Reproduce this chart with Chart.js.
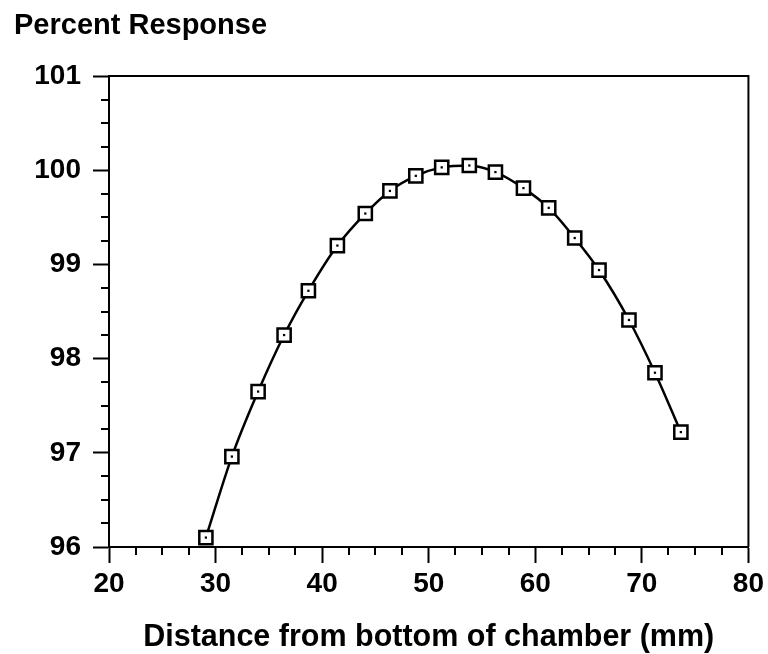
<!DOCTYPE html>
<html>
<head>
<meta charset="utf-8">
<script src="https://cdn.jsdelivr.net/npm/chart.js@4"></script>
<style>
  html, body { margin: 0; padding: 0; background: #fff; }
  #wrap { width: 768px; height: 654px; }
</style>
</head>
<body>
<div id="wrap"><canvas id="chamber-chart" width="768" height="654"></canvas></div>
<script>
// distance from chamber bottom (mm) and percent response
const distances = [29.09, 31.53, 33.99, 36.43, 38.71, 41.43, 44.05, 46.36, 48.79, 51.22,
  53.81, 56.26, 58.89, 61.26, 63.70, 65.98, 68.79, 71.23, 73.66]
const responses = [96.10, 96.96, 97.65, 98.25, 98.72, 99.20, 99.54, 99.78, 99.94, 100.03,
  100.05, 99.98, 99.81, 99.60, 99.28, 98.94, 98.41, 97.85, 97.22]

const xTicks = [20, 30, 40, 50, 60, 70, 80]
const yTicks = [96, 97, 98, 99, 100, 101]
const xMinorStep = 2.5
const yMinorStep = 0.25

const points = distances.map((d, i) => ({ x: d, y: responses[i] }))
const FONT = "'Liberation Sans', Arial, sans-serif"

// minor ticks + top/right frame, drawn from the chart's own scales
const framePlugin = {
  id: 'frame',
  afterDraw(chart) {
    const { ctx, chartArea, scales } = chart
    const xs = scales.x, ys = scales.y
    ctx.save()
    ctx.strokeStyle = '#000'
    ctx.lineWidth = 2
    ctx.beginPath()
    for (let v = xTicks[0]; v <= xTicks[xTicks.length - 1]; v += xMinorStep) {
      if (xTicks.includes(v)) continue
      const px = Math.round(xs.getPixelForValue(v))
      ctx.moveTo(px, chartArea.bottom)
      ctx.lineTo(px, chartArea.bottom + 8)
    }
    for (let v = yTicks[0]; v <= yTicks[yTicks.length - 1]; v += yMinorStep) {
      if (yTicks.includes(v)) continue
      const py = Math.round(ys.getPixelForValue(v))
      ctx.moveTo(chartArea.left - 8, py)
      ctx.lineTo(chartArea.left, py)
    }
    // top and right borders
    ctx.moveTo(chartArea.left, chartArea.top)
    ctx.lineTo(chartArea.right, chartArea.top)
    ctx.lineTo(chartArea.right, chartArea.bottom)
    ctx.stroke()
    ctx.restore()
  }
}

const ctx = document.getElementById('chamber-chart').getContext('2d')
new Chart(ctx, {
  type: 'scatter',
  data: {
    datasets: [
      {
        // little dot in the middle of each square
        data: points,
        showLine: false,
        pointStyle: 'rect',
        pointRadius: 1.6,
        pointBackgroundColor: '#000',
        pointBorderWidth: 0,
        order: 0,
        clip: false,
      },
      {
        data: points,
        showLine: true,
        borderColor: '#000',
        borderWidth: 2.5,
        cubicInterpolationMode: 'monotone',
        pointStyle: 'rect',
        pointRadius: 9.3,
        pointBackgroundColor: '#fff',
        pointBorderColor: '#000',
        pointBorderWidth: 2.5,
        order: 1,
        clip: false,
      },
    ],
  },
  options: {
    responsive: false,
    animation: false,
    layout: { padding: { left: 14, right: 19, top: 0, bottom: 0 } },
    plugins: {
      legend: { display: false },
      tooltip: { enabled: false },
      title: {
        display: true,
        text: 'Percent Response',
        align: 'start',
        color: '#000',
        font: { family: FONT, size: 29, weight: 'bold', lineHeight: 1 },
        padding: { top: 11, bottom: 36 },
      },
    },
    scales: {
      x: {
        type: 'linear',
        min: 20,
        max: 80,
        afterBuildTicks: (scale) => { scale.ticks = xTicks.map(v => ({ value: v })) },
        afterFit: (scale) => { scale.height = 107 },
        ticks: {
          color: '#000',
          padding: 4,
          maxRotation: 0,
          font: { family: FONT, size: 28, weight: 'bold' },
        },
        grid: {
          drawOnChartArea: false,
          drawTicks: true,
          tickLength: 16,
          tickWidth: 2,
          tickColor: '#000',
        },
        border: { display: true, color: '#000', width: 2 },
        title: {
          display: true,
          text: 'Distance from bottom of chamber (mm)',
          color: '#000',
          font: { family: FONT, size: 30.5, weight: 'bold', lineHeight: 1 },
          padding: { top: 0, bottom: 1 },
        },
      },
      y: {
        type: 'linear',
        min: 96,
        max: 101,
        afterBuildTicks: (scale) => { scale.ticks = yTicks.map(v => ({ value: v })) },
        afterFit: (scale) => { scale.width = 95 },
        ticks: {
          color: '#000',
          padding: 12,
          font: { family: FONT, size: 28, weight: 'bold' },
        },
        grid: {
          drawOnChartArea: false,
          drawTicks: true,
          tickLength: 16,
          tickWidth: 2,
          tickColor: '#000',
        },
        border: { display: true, color: '#000', width: 2 },
      },
    },
  },
  plugins: [framePlugin],
})
</script>
</body>
</html>
